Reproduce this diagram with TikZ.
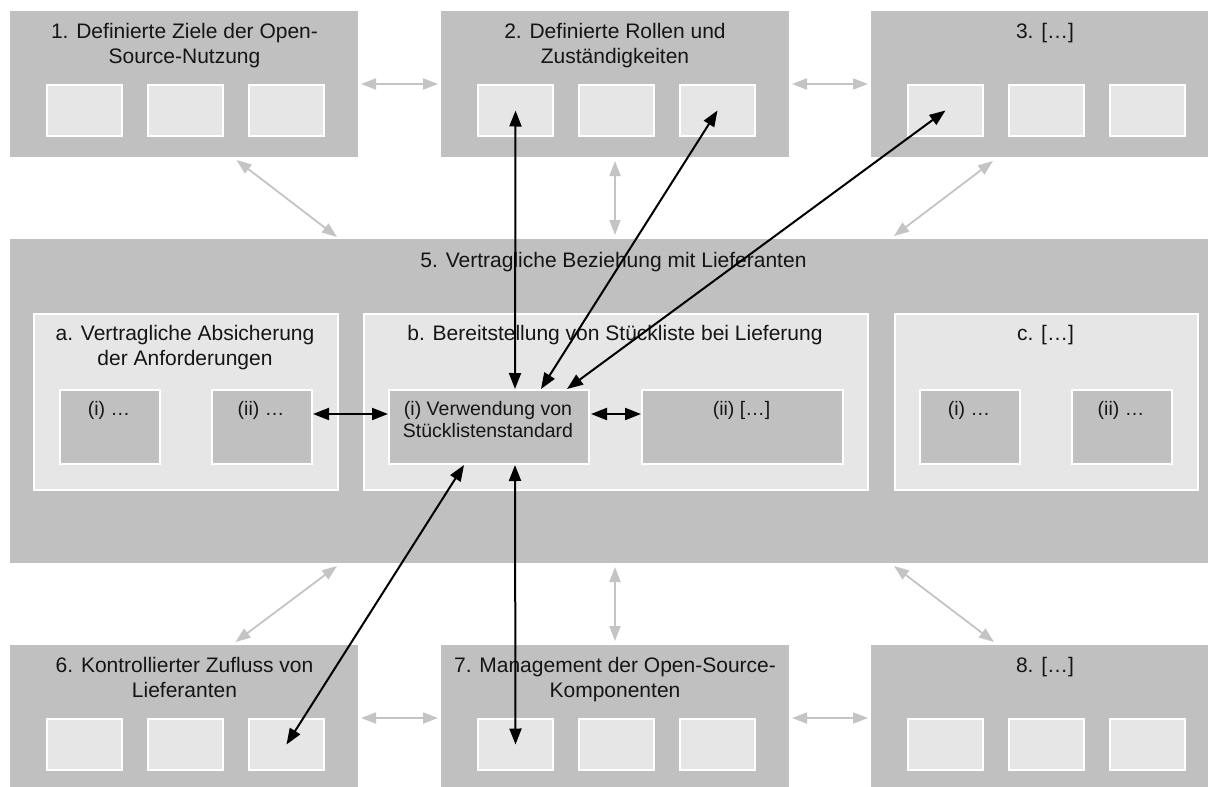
\documentclass[tikz,border=0pt]{standalone}
\usepackage{fontspec}
\setmainfont{Liberation Sans}
\usetikzlibrary{arrows.meta,calc}
\definecolor{boxgray}{HTML}{C0C0C0}
\definecolor{lightbox}{HTML}{E6E6E6}
\definecolor{arrowgray}{HTML}{C4C4C4}
\definecolor{txt}{HTML}{151515}
\tikzset{
  outerbox/.style={fill=boxgray, draw=none, inner sep=0pt, outer sep=0pt, anchor=north west, minimum width=348pt, minimum height=146pt},
  smallbox/.style={fill=lightbox, draw=white, line width=2pt, inner sep=0pt, anchor=north west, minimum width=75pt, minimum height=51pt},
  subbox/.style={fill=lightbox, draw=white, line width=2pt, inner sep=0pt, anchor=north west, minimum height=176pt},
  darkbox/.style={fill=boxgray, draw=white, line width=2pt, inner sep=0pt, anchor=north west, minimum height=74pt},
  title/.style={anchor=base, align=center, inner sep=0pt, text=txt, font=\fontsize{21}{25}\selectfont},
  boxtext/.style={anchor=base, align=center, inner sep=0pt, text=txt, font=\fontsize{19.5}{22}\selectfont},
  garrow/.style={draw=arrowgray, line width=1.8pt, arrows={Triangle[length=15pt,width=11pt]-Triangle[length=15pt,width=11pt]}},
  barrow/.style={draw=black, line width=2pt, arrows={Triangle[length=16pt,width=12pt]-Triangle[length=16pt,width=12pt]}}
}
\begin{document}
\begin{tikzpicture}[x=1pt,y=-1pt]
\clip (0,0) rectangle (1208,787);
\fill[white] (0,0) rectangle (1208,787);
% outer boxes with small boxes
\foreach \b/\L/\T in {1/10/11, 2/441/11, 3/871/11, 6/10/645, 7/441/645, 8/871/645}{
  \node[outerbox] (b\b) at (\L,\T) {};
  \foreach \k/\dx in {1/36, 2/137, 3/238}
    \node[smallbox] (s\b\k) at (\L+\dx,\T+73) {};
}
% big box 5
\node[outerbox, minimum width=1207pt, minimum height=324pt] (b5) at (10,239) {};
\node[subbox, minimum width=304pt] (sa) at (33,313) {};
\node[subbox, minimum width=504pt] (sb) at (363,313) {};
\node[subbox, minimum width=303pt] (sc) at (894,313) {};
\node[darkbox, minimum width=100pt] (a1) at (59,389) {};
\node[darkbox, minimum width=100pt] (a2) at (211,389) {};
\node[darkbox, minimum width=200pt] (bi) at (388,389) {};
\node[darkbox, minimum width=201pt] (bii) at (641,389) {};
\node[darkbox, minimum width=100pt] (c1) at (919,389) {};
\node[darkbox, minimum width=100pt] (c2) at (1071,389) {};
% titles (base anchor = baseline of the last line)
\node[title] (t1) at (184.5,63.7) {1. Definierte Ziele der Open-\\Source-Nutzung};
\node[title] (t2) at (615,63.7) {2. Definierte Rollen und\\Zuständigkeiten};
\node[title] (t3) at (1045,38.7) {3. […]};
\node[title] (t5) at (613.5,267.5) {5. Vertragliche Beziehung mit Lieferanten};
\node[title] (ta) at (185,365.7) {a. Vertragliche Absicherung\\der Anforderungen};
\node[title] (tb) at (615,340.7) {b. Bereitstellung von Stückliste bei Lieferung};
\node[title] (tc) at (1045.5,340.7) {c. […]};
\node[title] (t6) at (184.5,697.7) {6. Kontrollierter Zufluss von\\Lieferanten};
\node[title] (t7) at (615,697.7) {7. Management der Open-Source-\\Komponenten};
\node[title] (t8) at (1045,672.7) {8. […]};
% inner texts
\node[boxtext] (ta1) at (109,415.7) {(i) …};
\node[boxtext] (ta2) at (261,415.7) {(ii) …};
\node[boxtext] (tbi) at (488,437.7) {(i) Verwendung von\\Stücklistenstandard};
\node[boxtext] (tbii) at (741.5,415.7) {(ii) […]};
\node[boxtext] (tc1) at (969,415.7) {(i) …};
\node[boxtext] (tc2) at (1121,415.7) {(ii) …};
% gray arrows
\draw[garrow] ($(b1.east)+(3,0)$) -- ($(b2.west)+(-3,0)$);
\draw[garrow] ($(b2.east)+(3,0)$) -- ($(b3.west)+(-3,0)$);
\draw[garrow] ($(b6.east)+(3,0)$) -- ($(b7.west)+(-3,0)$);
\draw[garrow] ($(b7.east)+(3,0)$) -- ($(b8.west)+(-3,0)$);
\draw[garrow] ($(b1.south)+(52.5,3)$) -- ($(b5.north)+(-276.5,-2)$);
\draw[garrow] ($(b2.south)+(0,4)$) -- ($(b2.south|-b5.north)+(0,-4)$);
\draw[garrow] ($(b3.south)+(-52,4)$) -- ($(b5.north)+(280.5,-3)$);
\draw[garrow] ($(b5.south)+(-276.5,3)$) -- ($(b6.north)+(51.5,-3)$);
\draw[garrow] ($(b7.north|-b5.south)+(0,4)$) -- ($(b7.north)+(0,-4)$);
\draw[garrow] ($(b5.south)+(280.5,3)$) -- ($(b8.north)+(-51,-3)$);
% black arrows
\draw[barrow] ($(bi.north)+(26,0)$) -- (s21.center);
\draw[barrow] ($(bi.north)+(52,0)$) -- (s23.center);
\draw[barrow] ($(bi.north)+(78,0)$) -- (s31.center);
\draw[barrow] ($(a2.east)+(0,-13)$) -- ($(bi.west)+(0,-13)$);
\draw[barrow] ($(bi.east)+(1,-13)$) -- ($(bii.west)+(0,-13)$);
\draw[barrow] ($(bi.south)+(-25,0)$) -- (s63.center);
\draw[barrow] ($(bi.south)+(26,0)$) -- (s71.center);
\end{tikzpicture}
\end{document}
